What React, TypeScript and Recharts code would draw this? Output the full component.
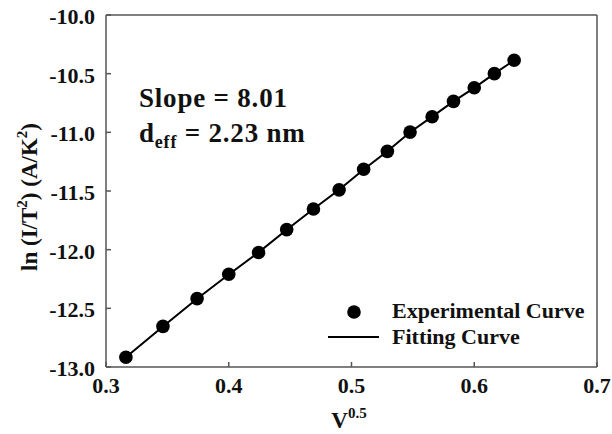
import React from "react";
import { ScatterChart, Scatter, XAxis, YAxis, ReferenceLine } from "recharts";

const sqrtV = [0.3162, 0.3464, 0.3742, 0.4, 0.4243, 0.4472, 0.469, 0.4899, 0.5099, 0.5292, 0.5477, 0.5657, 0.5831, 0.6, 0.6164, 0.6325];
const lnIT2 = [-12.917, -12.654, -12.417, -12.21, -12.024, -11.829, -11.653, -11.49, -11.315, -11.162, -10.998, -10.867, -10.736, -10.62, -10.5, -10.386];
const fitX = [0.3162, 0.3464, 0.3742, 0.4, 0.4243, 0.4472, 0.469, 0.4899, 0.5099, 0.5292, 0.5477, 0.5657, 0.5831, 0.6, 0.6164, 0.6325];
const fitY = [-12.917, -12.655, -12.418, -12.211, -12.023, -11.83, -11.654, -11.49, -11.316, -11.161, -10.999, -10.866, -10.736, -10.621, -10.5, -10.386];
const xTicks = [0.3, 0.4, 0.5, 0.6, 0.7];
const yTicks = [-13, -12.5, -12, -11.5, -11, -10.5, -10];

const expData = sqrtV.map((x, i) => ({ x, y: lnIT2[i] }));
const fitData = fitX.map((x, i) => ({ x, y: fitY[i] }));

const FONT = "Liberation Serif, Times New Roman, DejaVu Serif, Noto Serif, serif";
const AX = "#555";
const txt: React.CSSProperties = { fontFamily: FONT, fontWeight: 700 };

const YTick = (props: any) => {
  const { x, y, payload } = props;
  return (
    <g>
      <line x1={x} x2={x + 5} y1={y} y2={y} stroke={AX} strokeWidth={1.5} />
      <text x={x - 11} y={y + 9} textAnchor="end" style={{ ...txt, fontSize: 22 }} fill="#111">
        {Number(payload.value).toFixed(1)}
      </text>
    </g>
  );
};

const XTick = (props: any) => {
  const { x, y, payload } = props;
  return (
    <g>
      <line x1={x} x2={x} y1={y} y2={y - 5} stroke={AX} strokeWidth={1.5} />
      <text x={x} y={y + 26} textAnchor="middle" style={{ ...txt, fontSize: 22 }} fill="#111">
        {Number(payload.value).toFixed(1)}
      </text>
    </g>
  );
};

const Dot = (props: any) => {
  const { cx, cy } = props;
  if (cx == null || cy == null) return null;
  return <circle cx={cx} cy={cy} r={6.8} fill="#000" />;
};

const NoShape = () => null;

export default function App() {
  return (
    <div style={{ position: "absolute", left: 0, top: 0, width: 612, height: 434, background: "#fff" }}>
      <ScatterChart width={612} height={434} margin={{ top: 15, right: 15, left: 0, bottom: 0 }}>
        <XAxis
          type="number"
          dataKey="x"
          domain={[0.3, 0.7]}
          ticks={xTicks}
          height={67}
          tickSize={0}
          tickMargin={0}
          tickLine={false}
          tick={<XTick />}
          axisLine={{ stroke: AX, strokeWidth: 1.5 }}
          allowDataOverflow
        />
        <YAxis
          type="number"
          dataKey="y"
          domain={[-13, -10]}
          ticks={yTicks}
          width={106}
          tickSize={0}
          tickMargin={0}
          tickLine={false}
          tick={<YTick />}
          axisLine={{ stroke: AX, strokeWidth: 1.5 }}
          allowDataOverflow
        />
        <ReferenceLine y={-10} stroke={AX} strokeWidth={1.5} />
        <ReferenceLine x={0.7} stroke={AX} strokeWidth={1.5} />
        <Scatter
          name="Fitting Curve"
          data={fitData}
          line={{ stroke: "#000", strokeWidth: 2 }}
          shape={<NoShape />}
          isAnimationActive={false}
        />
        <Scatter name="Experimental Curve" data={expData} shape={<Dot />} isAnimationActive={false} />
      </ScatterChart>
      <svg width={612} height={434} style={{ position: "absolute", left: 0, top: 0, pointerEvents: "none" }}>
        <g style={txt} fill="#111">
          <text transform="translate(37,197) rotate(-90)" textAnchor="middle" style={{ ...txt, fontSize: 23 }}>
            ln (I/T<tspan style={{ fontSize: 15 }} dy={-10}>2</tspan>
            <tspan dy={10}>) (A/K</tspan>
            <tspan style={{ fontSize: 15 }} dy={-10}>2</tspan>
            <tspan dy={10}>)</tspan>
          </text>
          <text x={349} y={428} textAnchor="middle" style={{ ...txt, fontSize: 23 }}>
            V<tspan style={{ fontSize: 15 }} dy={-10}>0.5</tspan>
          </text>
          <text x={139} y={107} style={{ ...txt, fontSize: 27, letterSpacing: 0.8 }}>Slope = 8.01</text>
          <text x={139} y={142} style={{ ...txt, fontSize: 27, letterSpacing: 0.8 }}>
            d<tspan style={{ fontSize: 18 }} dy={6}>eff</tspan>
            <tspan dy={-6}> = 2.23 nm</tspan>
          </text>
          <circle cx={354} cy={312} r={6.8} fill="#000" />
          <text x={392} y={318} style={{ ...txt, fontSize: 22 }}>Experimental Curve</text>
          <line x1={328} x2={379} y1={337} y2={337} stroke="#000" strokeWidth={2} />
          <text x={392} y={344} style={{ ...txt, fontSize: 22 }}>Fitting Curve</text>
        </g>
      </svg>
    </div>
  );
}
